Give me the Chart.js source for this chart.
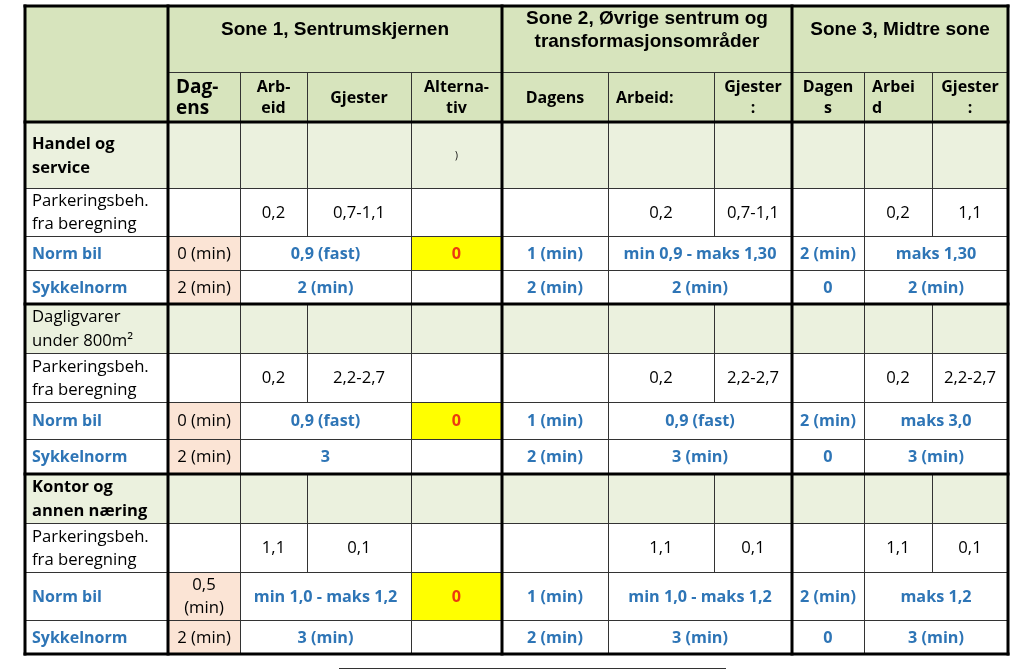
<!DOCTYPE html>
<html>
<head>
<meta charset="utf-8">
<script src="https://cdn.jsdelivr.net/npm/chart.js@4.4.1/dist/chart.umd.min.js"></script>
<style>
  html, body { margin: 0; padding: 0; background: #fff; }
  canvas { display: block; }
</style>
</head>
<body>
<canvas id="tbl" width="1024" height="669"></canvas>
<script>
// ---- table content ----
const zones = ['Sone 1, Sentrumskjernen', 'Sone 2, Øvrige sentrum og\ntransformasjonsområder', 'Sone 3, Midtre sone'];
const subHeaders = ['Dag-\nens', 'Arb-\neid', 'Gjester', 'Alterna-\ntiv', 'Dagens', 'Arbeid:', 'Gjester\n:', 'Dagen\ns', 'Arbei\nd', 'Gjester\n:'];
const groups = ['Handel og\nservice', 'Dagligvarer\nunder 800m²', 'Kontor og\nannen næring'];
const rowLabels = ['Parkeringsbeh.\nfra beregning', 'Norm bil', 'Sykkelnorm'];
const groupNotes = [
  ['', '', '', ')', '', '', '', '', '', ''],
  ['', '', '', '', '', '', '', '', '', ''],
  ['', '', '', '', '', '', '', '', '', '']
];
const parkering = [
  ['', '0,2', '0,7-1,1', '', '', '0,2', '0,7-1,1', '', '0,2', '1,1'],
  ['', '0,2', '2,2-2,7', '', '', '0,2', '2,2-2,7', '', '0,2', '2,2-2,7'],
  ['', '1,1', '0,1', '', '', '1,1', '0,1', '', '1,1', '0,1']
];
const normBil = [
  ['0 (min)', '0,9 (fast)', '0', '1 (min)', 'min 0,9 - maks 1,30', '2 (min)', 'maks 1,30'],
  ['0 (min)', '0,9 (fast)', '0', '1 (min)', '0,9 (fast)', '2 (min)', 'maks 3,0'],
  ['0,5\n(min)', 'min 1,0 - maks 1,2', '0', '1 (min)', 'min 1,0 - maks 1,2', '2 (min)', 'maks 1,2']
];
const sykkelnorm = [
  ['2 (min)', '2 (min)', '', '2 (min)', '2 (min)', '0', '2 (min)'],
  ['2 (min)', '3', '', '2 (min)', '3 (min)', '0', '3 (min)'],
  ['2 (min)', '3 (min)', '', '2 (min)', '3 (min)', '0', '3 (min)']
];

// ---- layout ----
const colWidths = [143, 72, 67, 104, 91, 106, 106, 78, 72, 68, 76];
const rowHeights = [66, 50, 66, 48, 34, 34, 49, 49, 37, 35, 49, 49, 48, 34];
const zoneSpans = [4, 3, 3];
const mergeSpans = [1, 2, 1, 1, 2, 1, 2];
const groupBold = [true, false, true];
const thickCols = [0, 1, 5, 8, 11];
const thickRows = [0, 2, 6, 10, 14];

const cum = a => a.reduce((acc, v) => { acc.push(acc[acc.length - 1] + v); return acc; }, [0]);
const colEdges = cum(colWidths);
const rowEdges = cum(rowHeights);

const BODY = '"Open Sans", "Noto Sans", sans-serif';
const BLUE = '#2e75b6';
const C_HEAD = '#d7e4bd';
const C_CAT = '#ebf1de';
const C_PEACH = '#fbe4d5';
const C_YELLOW = '#ffff00';

const st = {
  zone: { font: 'bold 19px "Liberation Sans", Arial, sans-serif', color: '#000', lh: 23, dy: -10 },
  sub: { font: 'bold 16px ' + BODY, color: '#000', lh: 21 },
  subBig: { font: 'bold 19px ' + BODY, color: '#000', lh: 21, align: 'left', pad: 8 },
  subLeft: { font: 'bold 16px ' + BODY, color: '#000', lh: 21, align: 'left', pad: 8 },
  catB: { font: 'bold 16.5px ' + BODY, color: '#000', lh: 24, align: 'left', pad: 7, fill: C_CAT },
  catN: { font: '16.7px ' + BODY, color: '#000', lh: 24, align: 'left', pad: 7, fill: C_CAT },
  catCell: { font: '10px ' + BODY, color: '#000', lh: 12, fill: C_CAT },
  label: { font: '16.7px ' + BODY, color: '#000', lh: 23, align: 'left', pad: 7 },
  labelBlue: { font: 'bold 16px ' + BODY, color: BLUE, lh: 23, align: 'left', pad: 7 },
  plain: { font: '16.7px ' + BODY, color: '#000', lh: 23 },
  peach: { font: '16.7px ' + BODY, color: '#000', lh: 23, fill: C_PEACH },
  blue: { font: 'bold 16.2px ' + BODY, color: BLUE, lh: 23 },
  yellow: { font: 'bold 16.2px ' + BODY, color: '#ec3a10', lh: 23, fill: C_YELLOW }
};

// build cell list in grid units
const cells = [];
function add(c0, c1, r0, r1, text, s) { cells.push({ c0, c1, r0, r1, text, s }); }

add(0, 1, 0, 2, '', { fill: C_HEAD });
let c = 1;
zones.forEach((z, i) => { add(c, c + zoneSpans[i], 0, 1, z, Object.assign({ fill: C_HEAD }, st.zone)); c += zoneSpans[i]; });
subHeaders.forEach((h, i) => {
  let s = st.sub;
  if (i === 0) s = st.subBig;
  if (i === 5 || i === 8) s = st.subLeft;
  add(i + 1, i + 2, 1, 2, h, Object.assign({ fill: C_HEAD }, s));
});

groups.forEach((g, gi) => {
  const r = 2 + gi * 4;
  add(0, 1, r, r + 1, g, groupBold[gi] ? st.catB : st.catN);
  groupNotes[gi].forEach((v, i) => add(i + 1, i + 2, r, r + 1, v, st.catCell));
  add(0, 1, r + 1, r + 2, rowLabels[0], st.label);
  parkering[gi].forEach((v, i) => add(i + 1, i + 2, r + 1, r + 2, v, st.plain));
  add(0, 1, r + 2, r + 3, rowLabels[1], st.labelBlue);
  add(0, 1, r + 3, r + 4, rowLabels[2], st.labelBlue);
  let cc = 1;
  mergeSpans.forEach((sp, k) => {
    const sN = k === 0 ? st.peach : (k === 2 ? st.yellow : st.blue);
    const sS = k === 0 ? st.peach : (k === 2 ? st.plain : st.blue);
    add(cc, cc + sp, r + 2, r + 3, normBil[gi][k], sN);
    add(cc, cc + sp, r + 3, r + 4, sykkelnorm[gi][k], sS);
    cc += sp;
  });
});

const tablePlugin = {
  id: 'tablePlugin',
  afterDraw(chart) {
    const { ctx } = chart;
    const xs = chart.scales.x, ys = chart.scales.y;
    const X = i => xs.getPixelForValue(colEdges[i]);
    const Y = i => ys.getPixelForValue(rowEdges[i]);
    ctx.save();
    // backgrounds
    cells.forEach(cl => {
      if (!cl.s.fill) return;
      ctx.fillStyle = cl.s.fill;
      ctx.fillRect(X(cl.c0), Y(cl.r0), X(cl.c1) - X(cl.c0), Y(cl.r1) - Y(cl.r0));
    });
    // thin borders
    ctx.strokeStyle = '#333';
    ctx.lineWidth = 1;
    cells.forEach(cl => {
      const x0 = Math.round(X(cl.c0)) + 0.5, x1 = Math.round(X(cl.c1)) + 0.5;
      const y0 = Math.round(Y(cl.r0)) + 0.5, y1 = Math.round(Y(cl.r1)) + 0.5;
      ctx.strokeRect(x0, y0, x1 - x0, y1 - y0);
    });
    // thick borders
    ctx.strokeStyle = '#000';
    ctx.lineWidth = 3;
    ctx.lineCap = 'square';
    thickCols.forEach(i => {
      ctx.beginPath(); ctx.moveTo(X(i), Y(0)); ctx.lineTo(X(i), Y(rowEdges.length - 1)); ctx.stroke();
    });
    thickRows.forEach(i => {
      ctx.beginPath(); ctx.moveTo(X(0), Y(i)); ctx.lineTo(X(colEdges.length - 1), Y(i)); ctx.stroke();
    });
    // text
    cells.forEach(cl => {
      if (!cl.text) return;
      const s = cl.s;
      const x0 = X(cl.c0), x1 = X(cl.c1), y0 = Y(cl.r0), y1 = Y(cl.r1);
      ctx.font = s.font;
      ctx.fillStyle = s.color;
      ctx.textBaseline = 'middle';
      let x;
      if (s.align === 'left') { ctx.textAlign = 'left'; x = x0 + s.pad; }
      else { ctx.textAlign = 'center'; x = (x0 + x1) / 2; }
      const lines = cl.text.split('\n');
      const cy = (y0 + y1) / 2 + (s.dy || 0) + 1;
      lines.forEach((ln, i) => ctx.fillText(ln, x, cy + (i - (lines.length - 1) / 2) * s.lh));
    });
    // edge of the box below the table
    ctx.strokeStyle = '#333';
    ctx.lineWidth = 2;
    ctx.beginPath();
    ctx.moveTo(xs.getPixelForValue(315), ys.getPixelForValue(663));
    ctx.lineTo(xs.getPixelForValue(700), ys.getPixelForValue(663));
    ctx.stroke();
    ctx.restore();
  }
};

function build() {
  new Chart(document.getElementById('tbl'), {
    type: 'scatter',
    data: { datasets: [{ data: [], pointRadius: 0 }] },
    options: {
      responsive: false,
      animation: false,
      events: [],
      layout: { padding: { left: 25, top: 6, right: 16, bottom: 15 } },
      plugins: { legend: { display: false }, tooltip: { enabled: false } },
      scales: {
        x: { type: 'linear', min: 0, max: colEdges[colEdges.length - 1], display: false },
        y: { type: 'linear', min: 0, max: rowEdges[rowEdges.length - 1], reverse: true, display: false }
      }
    },
    plugins: [tablePlugin]
  });
}

Promise.all([
  document.fonts.load('16px "Open Sans"'),
  document.fonts.load('bold 16px "Open Sans"'),
  document.fonts.load('bold 18px "Liberation Sans"')
]).then(build, build);
</script>
</body>
</html>
